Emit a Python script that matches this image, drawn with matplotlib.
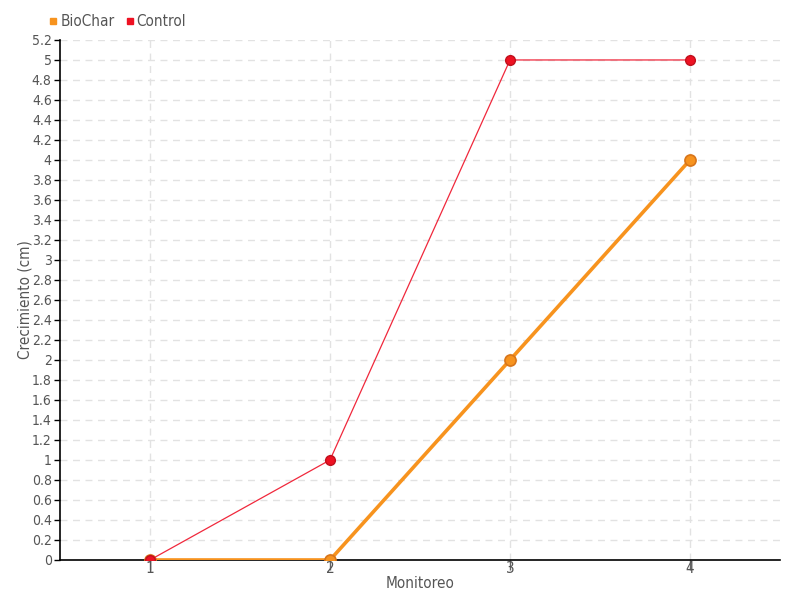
import numpy as np
import matplotlib.pyplot as plt
from matplotlib.lines import Line2D

# datos
monitoreo = [1, 2, 3, 4]
biochar = [0, 0, 2, 4]
control = [0, 1, 5, 5]
y_ticks = np.round(np.arange(0, 5.21, 0.2), 1)

plt.rcParams['font.family'] = 'DejaVu Sans'
plt.rcParams['font.stretch'] = 'condensed'

fig = plt.figure(figsize=(8, 6), dpi=100)
ax = fig.add_axes([0.075, 0.0667, 0.9, 0.8667])

gris = '#555555'

ax.plot(monitoreo, biochar, color='#f7931e', lw=2.6, marker='o', ms=8,
        markerfacecolor='#f7931e', markeredgecolor='#d8751a', mew=1.2, zorder=3)
ax.plot(monitoreo, control, color='#f0283c', lw=0.9, marker='o', ms=7,
        markerfacecolor='#ee1122', markeredgecolor='#c0101c', mew=1, zorder=4)

ax.set_xlim(0.5, 4.5)
ax.set_ylim(0, 5.2)
ax.set_xticks(monitoreo)
ax.set_yticks(y_ticks)
ax.set_yticklabels(['%g' % v for v in y_ticks])

ax.grid(True, color='#e2e2e2', linestyle=(0, (5, 4)), lw=1)
ax.set_axisbelow(True)

for s in ['top', 'right']:
    ax.spines[s].set_visible(False)
ax.spines['left'].set_color('black')
ax.spines['bottom'].set_color('black')
ax.spines['left'].set_linewidth(1.2)
ax.spines['bottom'].set_linewidth(1.2)

ax.tick_params(axis='y', length=4, width=1, colors='black', labelcolor=gris,
               labelsize=10, pad=2)
ax.tick_params(axis='x', length=7, width=1, colors='#666666', labelcolor=gris,
               labelsize=11, pad=-6)

ax.set_xlabel('Monitoreo', color=gris, fontsize=11, labelpad=0)
ax.set_ylabel('Crecimiento (cm)', color=gris, fontsize=11)
ax.yaxis.set_label_coords(-0.038, 0.5)

handles = [Line2D([], [], ls='', marker='s', ms=5, color='#f7931e'),
           Line2D([], [], ls='', marker='s', ms=5, color='#ee1122')]
fig.legend(handles, ['BioChar', 'Control'], loc='center left',
           bbox_to_anchor=(0.059, 0.964), ncol=2, frameon=False,
           handletextpad=0.05, columnspacing=0.6, handlelength=0.8,
           borderaxespad=0, borderpad=0, labelcolor=gris, fontsize=11)

fig.savefig('out.png', dpi=100)
